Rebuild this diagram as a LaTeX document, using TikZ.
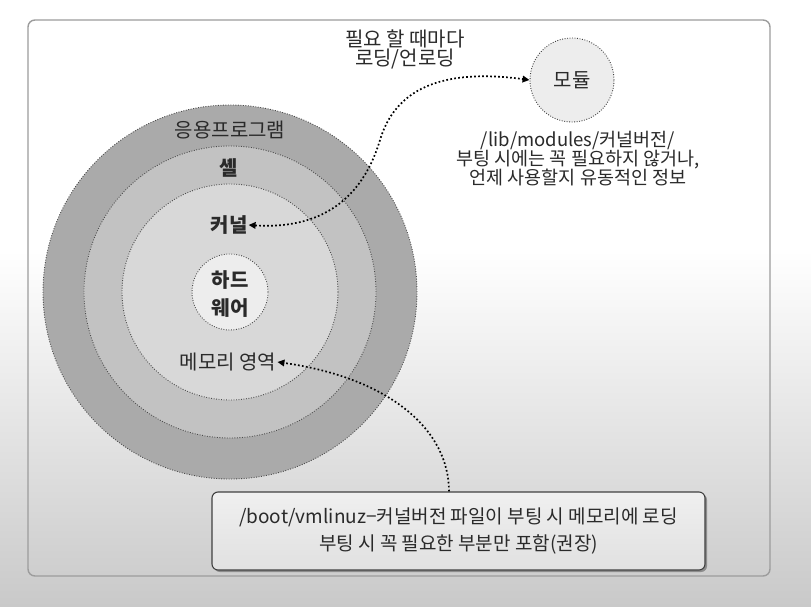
\documentclass[tikz,border=0pt]{standalone}
\usepackage{fontspec}
\setmainfont{Noto Sans CJK KR}
\usetikzlibrary{arrows.meta,shadows}
\definecolor{bgbot}{HTML}{C9C9C9}
\definecolor{ringapp}{HTML}{AAAAAA}
\definecolor{ringshell}{HTML}{C2C2C2}
\definecolor{ringkernel}{HTML}{D8D8D8}
\definecolor{ringhw}{HTML}{EDEDED}
\definecolor{framecol}{HTML}{9C9C9C}
\definecolor{txt}{HTML}{2A2A2A}
\tikzset{
  ring/.style={circle, inner sep=0pt, draw=black!70, line width=0.9pt, dash pattern=on 0.9pt off 1.6pt},
  lbl/.style={text=txt, inner sep=1pt, font=\fontsize{20}{19}\selectfont},
  blbl/.style={lbl, font=\fontsize{20}{19}\selectfont\bfseries},
  dotarrow/.style={draw=black, line width=1.7pt, dash pattern=on 1.7pt off 2.3pt, -{Triangle[length=7pt,width=6.5pt]}},
  bootbox/.style={rounded corners=6pt, draw=black!75, line width=1.1pt, top color=white!94!black, bottom color=white!88!black,
    drop shadow={shadow xshift=2pt, shadow yshift=-2pt, fill=black!45, opacity=1},
    minimum width=493pt, minimum height=78pt, align=center, text=txt, font=\fontsize{19}{27}\selectfont}
}
\begin{document}
\begin{tikzpicture}[x=1pt,y=-1pt]
\useasboundingbox (0,0) rectangle (811,607);
% background
\fill[white] (0,0) rectangle (811,607);
\shade[top color=white, bottom color=bgbot] (0,250) rectangle (811,607);
% frame
\draw[framecol, line width=1.4pt, rounded corners=7pt] (28,20) rectangle (770,576);
% concentric circles
\node[ring, fill=ringapp, minimum size=374pt] (app) at (230,292) {};
\node[ring, fill=ringshell, minimum size=292pt] (shellc) at (230,292) {};
\node[ring, fill=ringkernel, minimum size=216pt] (kernelc) at (230,292) {};
\node[ring, fill=ringhw, minimum size=76pt] (hwc) at (230,292) {};
% labels in circles
\node[lbl] (applbl) at (230,130) {응용프로그램};
\node[blbl] (shelllbl) at (229,168) {셸};
\node[blbl] (knl) at (229,225) {커널};
\node[blbl, align=center, font=\fontsize{20}{28}\selectfont\bfseries] (hw) at (230,294) {하드\\웨어};
\node[lbl] (mem) at (228,362) {메모리 영역};
% module
\node[circle, inner sep=0pt, minimum size=84pt, fill=ringhw, draw=black!75, line width=0.9pt, dash pattern=on 0.9pt off 1.6pt, lbl] (mod) at (572,80) {모듈};
\node[lbl, align=center] (loadtxt) at (405,49) {필요 할 때마다\\로딩/언로딩};
\node[lbl, align=center, font=\fontsize{18.5}{19}\selectfont] (modinfo) at (578,159) {/lib/modules/커널버전/\\부팅 시에는 꼭 필요하지 않거나,\\언제 사용할지 유동적인 정보};
% boot box
\node[bootbox] (boot) at (458.5,531) {/boot/vmlinuz−커널버전 파일이 부팅 시 메모리에 로딩\\부팅 시 꼭 필요한 부분만 포함(권장)};
% arrows
\draw[dotarrow, {Triangle[length=7pt,width=6.5pt]}-{Triangle[length=7pt,width=6.5pt]}] (knl.east) .. controls (330,230) and (365,190) .. (380,140) .. controls (395,90) and (440,68) .. (mod.west);
\draw[dotarrow] (boot.north -| 449,0) .. controls (449,430) and (390,378) .. (mem.east);
\end{tikzpicture}
\end{document}
